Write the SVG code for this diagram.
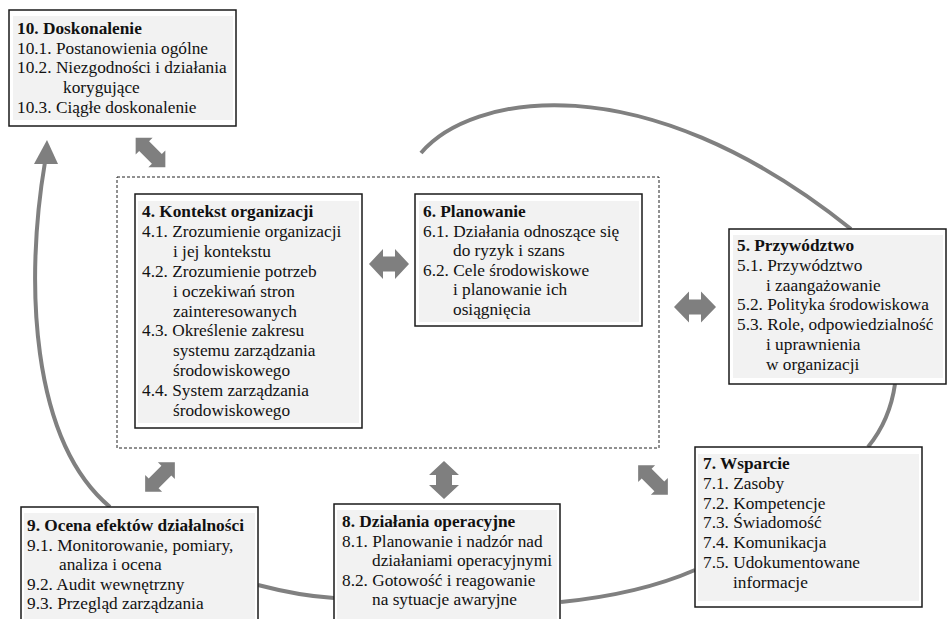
<svg xmlns="http://www.w3.org/2000/svg" width="950" height="619" viewBox="0 0 950 619">
<style>
.box{fill:#ffffff;stroke:#1a1a1a;stroke-width:1.5}
.fill{fill:#f2f2f2}
.t{font-family:"Liberation Serif","Times New Roman",serif;font-size:17.3px;fill:#111}
.b{font-weight:bold}
.arc{fill:none;stroke:#808080;stroke-width:4}
.dbl{fill:#7f7f7f}
.dash{fill:none;stroke:#222;stroke-width:1;stroke-dasharray:3,2}
</style>
<defs>
<path id="diag" d="M-21,0 L-9,-12 L-9,-7 L9,-7 L9,-12 L21,0 L9,12 L9,7 L-9,7 L-9,12 Z"/>
</defs>
<g id="connectors">
<rect class="dash" x="117" y="177" width="542" height="271"/>
<path class="arc" d="M421,153 C470,95 640,60 851,229"/>
<path class="arc" d="M895,384 Q890,420 868,447"/>
<path class="arc" d="M695,570 Q640,594 561,602"/>
<path class="arc" d="M334,598 Q300,596 258,585"/>
<path class="arc" d="M110,507 C30,440 25,280 45,162"/>
<polygon class="dbl" points="47,140 34,164 58,164"/>
<use href="#diag" class="dbl" transform="translate(150.5,152.5) rotate(45)"/>
<path class="dbl" transform="translate(389,264)" d="M-20,0 L-6,-15 L-6,-7.5 L6,-7.5 L6,-15 L20,0 L6,15 L6,7.5 L-6,7.5 L-6,15 Z"/>
<path class="dbl" transform="translate(695,307)" d="M-21,0 L-6,-15.5 L-6,-7.5 L6,-7.5 L6,-15.5 L21,0 L6,15.5 L6,7.5 L-6,7.5 L-6,15.5 Z"/>
<path class="dbl" transform="translate(444,480) rotate(90)" d="M-19,0 L-5,-15 L-5,-8 L5,-8 L5,-15 L19,0 L5,15 L5,8 L-5,8 L-5,15 Z"/>
<use href="#diag" class="dbl" transform="translate(160,477) rotate(-45)"/>
<use href="#diag" class="dbl" transform="translate(653,480) rotate(45)"/>
</g>
<g id="n10">
<rect class="box" x="9" y="10" width="227" height="116"/>
<rect class="fill" x="13" y="16" width="220" height="104"/>
<text class="t b" x="17" y="34">10. Doskonalenie</text>
<text class="t" x="17" y="53.7">10.1. Postanowienia ogólne</text>
<text class="t" x="17" y="73.4">10.2. Niezgodności i działania</text>
<text class="t" x="63" y="93.1">korygujące</text>
<text class="t" x="17" y="112.8">10.3. Ciągłe doskonalenie</text>
</g>
<g id="n4">
<rect class="box" x="135" y="194" width="227" height="234"/>
<rect class="fill" x="138" y="201" width="221" height="222"/>
<text class="t b" x="142" y="217">4. Kontekst organizacji</text>
<text class="t" x="142" y="236.9">4.1. Zrozumienie organizacji</text>
<text class="t" x="173" y="256.8">i jej kontekstu</text>
<text class="t" x="142" y="276.7">4.2. Zrozumienie potrzeb</text>
<text class="t" x="173" y="296.6">i oczekiwań stron</text>
<text class="t" x="173" y="316.5">zainteresowanych</text>
<text class="t" x="142" y="336.4">4.3. Określenie zakresu</text>
<text class="t" x="173" y="356.3">systemu zarządzania</text>
<text class="t" x="173" y="376.2">środowiskowego</text>
<text class="t" x="142" y="396.1">4.4. System zarządzania</text>
<text class="t" x="173" y="416">środowiskowego</text>
</g>
<g id="n6">
<rect class="box" x="415" y="194" width="227" height="132"/>
<rect class="fill" x="419" y="201" width="220" height="121"/>
<text class="t b" x="423" y="217">6. Planowanie</text>
<text class="t" x="423" y="236.6">6.1. Działania odnoszące się</text>
<text class="t" x="453" y="256.2">do ryzyk i szans</text>
<text class="t" x="423" y="275.8">6.2. Cele środowiskowe</text>
<text class="t" x="453" y="295.4">i planowanie ich</text>
<text class="t" x="453" y="315">osiągnięcia</text>
</g>
<g id="n5">
<rect class="box" x="729" y="229" width="217" height="155"/>
<rect class="fill" x="733" y="235" width="210" height="143"/>
<text class="t b" x="737" y="251">5. Przywództwo</text>
<text class="t" x="737" y="270.8">5.1. Przywództwo</text>
<text class="t" x="766" y="290.6">i zaangażowanie</text>
<text class="t" x="737" y="310.4">5.2. Polityka środowiskowa</text>
<text class="t" x="737" y="330.2">5.3. Role, odpowiedzialność</text>
<text class="t" x="766" y="350">i uprawnienia</text>
<text class="t" x="766" y="369.8">w organizacji</text>
</g>
<g id="n7">
<rect class="box" x="695" y="447" width="227" height="160"/>
<rect class="fill" x="698" y="454" width="221" height="147"/>
<text class="t b" x="703" y="469">7. Wsparcie</text>
<text class="t" x="703" y="488.8">7.1. Zasoby</text>
<text class="t" x="703" y="508.6">7.2. Kompetencje</text>
<text class="t" x="703" y="528.4">7.3. Świadomość</text>
<text class="t" x="703" y="548.2">7.4. Komunikacja</text>
<text class="t" x="703" y="568">7.5. Udokumentowane</text>
<text class="t" x="733" y="587.8">informacje</text>
</g>
<g id="n8">
<rect class="box" x="334" y="504" width="226" height="130"/>
<rect class="fill" x="337" y="510" width="220" height="120"/>
<text class="t b" x="342" y="527">8. Działania operacyjne</text>
<text class="t" x="342" y="546.5">8.1. Planowanie i nadzór nad</text>
<text class="t" x="372" y="566">działaniami operacyjnymi</text>
<text class="t" x="342" y="585.5">8.2. Gotowość i reagowanie</text>
<text class="t" x="372" y="605">na sytuacje awaryjne</text>
</g>
<g id="n9">
<rect class="box" x="21" y="507" width="237" height="130"/>
<rect class="fill" x="24" y="513" width="231" height="120"/>
<text class="t b" x="27" y="531">9. Ocena efektów działalności</text>
<text class="t" x="27" y="550.5">9.1. Monitorowanie, pomiary,</text>
<text class="t" x="59" y="570">analiza i ocena</text>
<text class="t" x="27" y="589.5">9.2. Audit wewnętrzny</text>
<text class="t" x="27" y="609">9.3. Przegląd zarządzania</text>
</g>
</svg>
